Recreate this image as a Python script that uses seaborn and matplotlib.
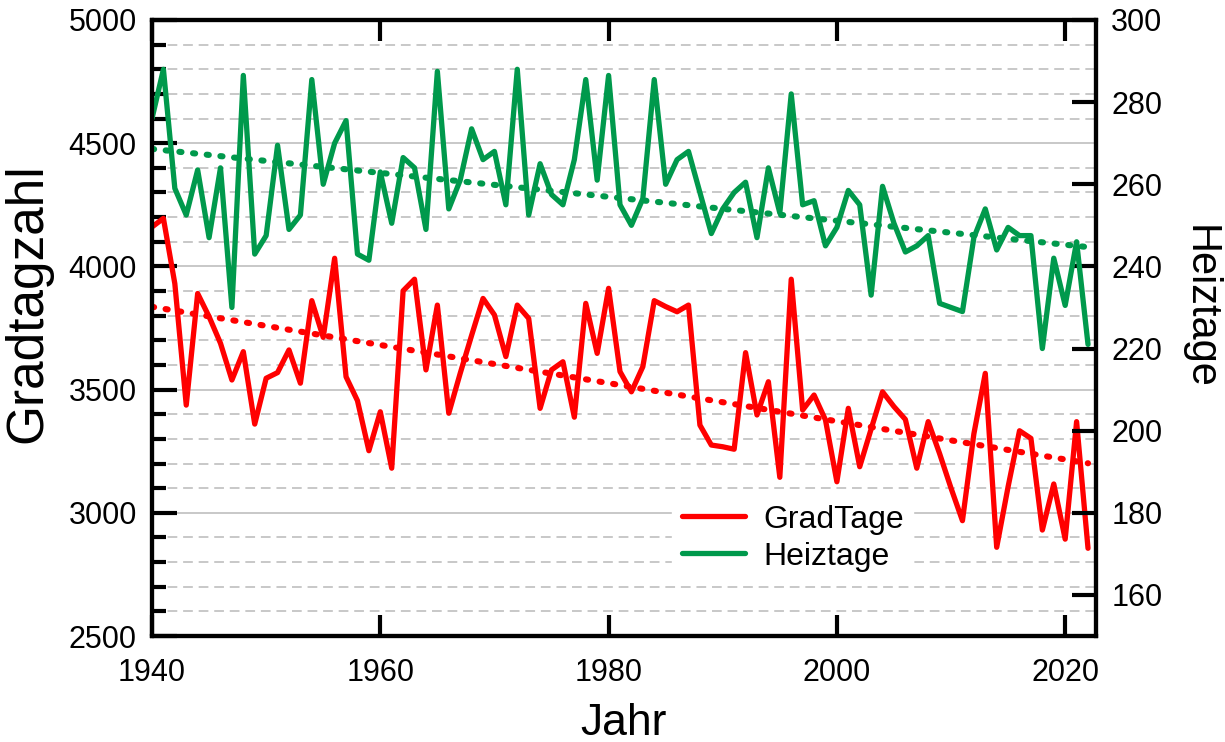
import matplotlib
matplotlib.use("Agg")
import matplotlib.pyplot as plt
from matplotlib.ticker import MultipleLocator
import pandas as pd
import seaborn as sns

# Jahreswerte 1940 - 2022
years = list(range(1940, 2023))

gradtage = [
    4160, 4195, 3930, 3437, 3890, 3796, 3688, 3539, 3654, 3360,  # 1940-1949
    3546, 3569, 3661, 3526, 3861, 3712, 4033, 3552, 3455, 3252,  # 1950-1959
    3410, 3181, 3901, 3948, 3580, 3843, 3404, 3566, 3720, 3870,  # 1960-1969
    3803, 3634, 3843, 3789, 3424, 3580, 3613, 3388, 3850, 3647,  # 1970-1979
    3911, 3573, 3491, 3593, 3861, 3837, 3816, 3843, 3356, 3275,  # 1980-1989
    3268, 3258, 3650, 3397, 3532, 3144, 3948, 3417, 3478, 3377,  # 1990-1999
    3126, 3424, 3187, 3340, 3491, 3431, 3379, 3181, 3370, 3240,  # 2000-2009
    3100, 2968, 3320, 3566, 2860, 3106, 3333, 3302, 2930, 3117,  # 2010-2019
    2893, 3370, 2856,                                            # 2020-2022
]

heiztage = [
    276, 288, 259, 252.5, 263.5, 247, 264, 230, 286.5, 243,      # 1940-1949
    247.5, 269.5, 249, 252.5, 285.5, 260, 270, 275.5, 243, 241.5,
    263, 250.5, 266.5, 264, 249, 287.5, 254, 261, 273.5, 266,
    268, 255, 288, 252.5, 265, 257.5, 255, 266, 285.5, 261,
    286.5, 255, 250, 256.5, 285.5, 260, 266, 268, 258, 248,
    254, 258, 260.5, 247, 264, 253, 282, 255, 256, 245,
    249.5, 258.5, 255, 233, 259.5, 250.5, 243.5, 245, 247.5, 231,
    230, 229, 247, 254, 244, 249.5, 247.5, 247.5, 220, 242,
    230.5, 246, 221,                                             # 2020-2022
]

# lineare Trends (Endpunkte)
trend_years = [1940, 2022]
gradtage_trend = [3836, 3201]
heiztage_trend = [268.6, 244.7]

df = pd.DataFrame({"Jahr": years, "GradTage": gradtage, "Heiztage": heiztage})
trend = pd.DataFrame({"Jahr": trend_years, "GradTage": gradtage_trend,
                      "Heiztage": heiztage_trend})

red = "#ff0000"
green = "#00994c"
dotted = (0, (0.35, 1.9))

sns.set_theme(style="white")
plt.rcParams["font.family"] = ["Liberation Sans", "DejaVu Sans"]
plt.rcParams["text.color"] = "black"
plt.rcParams["axes.labelcolor"] = "black"

fig = plt.figure(figsize=(12.25, 7.42), dpi=100)
ax = fig.add_axes([152 / 1225, 1 - 636 / 742, (1096 - 152) / 1225, (636 - 20) / 742])

sns.lineplot(data=df, x="Jahr", y="GradTage", ax=ax, color=red, lw=3.8,
             label="GradTage", legend=False)
sns.lineplot(data=trend, x="Jahr", y="GradTage", ax=ax, color=red, lw=4.4,
             linestyle=dotted, dash_capstyle="round", legend=False)

ax2 = ax.twinx()
sns.lineplot(data=df, x="Jahr", y="Heiztage", ax=ax2, color=green, lw=3.8,
             label="Heiztage", legend=False)
sns.lineplot(data=trend, x="Jahr", y="Heiztage", ax=ax2, color=green, lw=4.4,
             linestyle=dotted, dash_capstyle="round", legend=False)

# Achsen
ax.set_xlim(1940, 2022.7)
ax.set_ylim(2500, 5000)
ax2.set_ylim(150, 300)
ax.set_xticks([1940, 1960, 1980, 2000, 2020])
ax.set_yticks(range(2500, 5001, 500))
ax.yaxis.set_minor_locator(MultipleLocator(100))
ax2.set_yticks(range(160, 301, 20))

ax.grid(False)
ax2.grid(False)
ax.grid(which="major", axis="y", color="#c8c8c8", lw=1.4, ls="-")
ax.grid(which="minor", axis="y", color="#c8c8c8", lw=1.4, ls=(0, (5, 3)))

ax.tick_params(axis="y", which="major", direction="in", length=18, width=3,
               labelsize=22, pad=11, colors="black", left=True, right=False)
ax.tick_params(axis="y", which="minor", direction="in", length=10, width=3,
               colors="black", left=True, right=False)
ax.tick_params(axis="x", which="major", direction="in", length=15, width=3,
               labelsize=22, pad=16, colors="black", bottom=True, top=True)
ax2.tick_params(axis="y", which="major", direction="in", length=17, width=3,
                labelsize=22, pad=11, colors="black", right=True)

for a in (ax, ax2):
    for s in a.spines.values():
        s.set_linewidth(3)
        s.set_color("black")

ax.set_xlabel("Jahr", fontsize=32)
ax.set_ylabel("Gradtagzahl", fontsize=37)
ax2.set_ylabel("Heiztage", fontsize=30, rotation=270)
ax.xaxis.set_label_coords(0.5, -0.108)
ax.yaxis.set_label_coords(-0.106, 0.54)
ax2.yaxis.set_label_coords(1.131, 0.535)

# Legende
h1, l1 = ax.get_legend_handles_labels()
h2, l2 = ax2.get_legend_handles_labels()
leg = ax2.legend(h1 + h2, l1 + l2, loc="upper left",
                 bbox_to_anchor=(656 / 1225, 1 - 479 / 742),
                 bbox_transform=fig.transFigure, fontsize=23, frameon=True,
                 fancybox=False, facecolor="white", edgecolor="white",
                 framealpha=1, handlelength=2.0, handletextpad=0.55,
                 labelspacing=0.22, borderpad=0.3)

fig.savefig("out.png", dpi=100)
